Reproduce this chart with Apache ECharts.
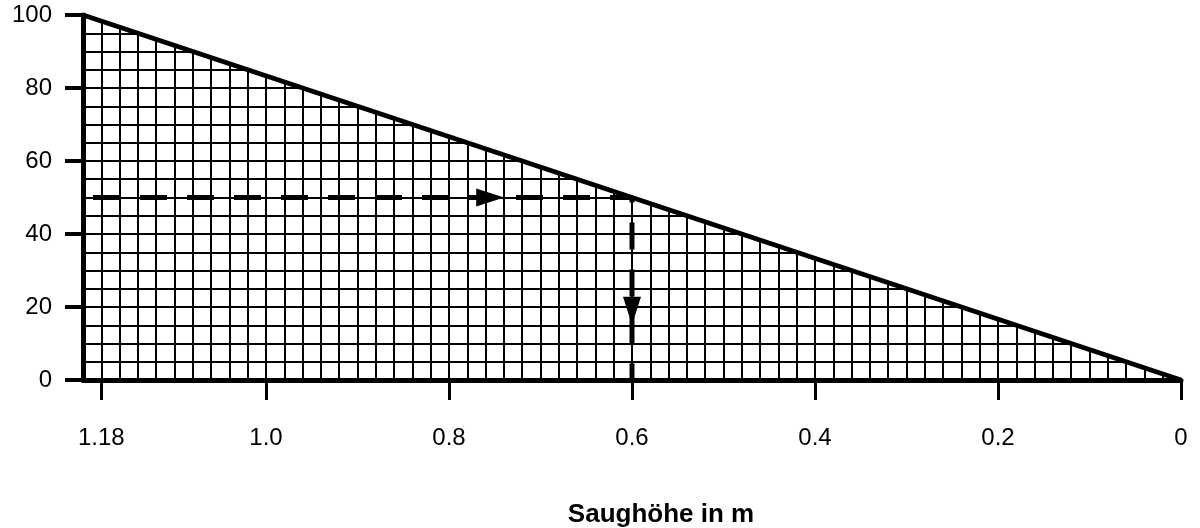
<!DOCTYPE html>
<html>
<head>
<meta charset="utf-8">
<title>Saughöhe</title>
<script src="https://cdn.jsdelivr.net/npm/echarts@6/dist/echarts.min.js"></script>
<style>
  html, body { margin: 0; padding: 0; background: #fff; }
  #chart { width: 1200px; height: 528px; }
</style>
</head>
<body>
<div id="chart"></div>
<script>
// triangle: suction height (m) vs percent
const heightM = [1.2, 0]
const percent = [100, 0]

// reading example (dashed path)
const readX = [1.2, 0.6, 0.6]
const readY = [50, 50, 0]

// arrow heads on the dashed path
const arrowX = [0.755, 0.6]
const arrowY = [50, 19]
const arrowRotate = [-90, 180]

// tick labels
const xTicks = [1.18, 1.0, 0.8, 0.6, 0.4, 0.2, 0]
const xTickLabels = ['1.18', '1.0', '0.8', '0.6', '0.4', '0.2', '0']
const yTicks = [0, 20, 40, 60, 80, 100]

const font = "'Liberation Sans', Arial, sans-serif"
const black = '#000'
const chart = echarts.init(document.getElementById('chart'))

// hidden twin axes that only draw the fine grid
const gridX = {
  type: 'value', inverse: true, min: 0, max: 1.2, interval: 0.02,
  axisLine: { show: false }, axisTick: { show: false }, axisLabel: { show: false },
  splitLine: { show: true, showMinLine: false, showMaxLine: false, lineStyle: { color: black, width: 2 } },
}
const gridY = {
  type: 'value', min: 0, max: 100, interval: 5,
  axisLine: { show: false }, axisTick: { show: false }, axisLabel: { show: false },
  splitLine: { show: true, showMinLine: false, showMaxLine: false, lineStyle: { color: black, width: 2 } },
}

chart.setOption({
  animation: false,
  backgroundColor: '#fff',
  grid: { left: 83, right: 19, top: 15, bottom: 148, outerBoundsMode: 'none' },
  xAxis: [
    {
      type: 'value',
      inverse: true,
      min: 0,
      max: 1.2,
      name: 'Saughöhe in m',
      nameLocation: 'middle',
      nameGap: 122,
      nameTextStyle: { color: black, fontFamily: font, fontSize: 26, fontWeight: 'bold', padding: [0, 0, 0, 58] },
      axisLine: { onZero: false, lineStyle: { color: black, width: 5 } },
      axisTick: { customValues: xTicks, length: 20, lineStyle: { color: black, width: 3 } },
      axisLabel: {
        customValues: xTicks,
        margin: 46,
        color: black,
        fontFamily: font,
        fontSize: 24,
        formatter: (v) => xTickLabels[xTicks.indexOf(v)] ?? String(v),
      },
      splitLine: { show: false },
      z: 5,
    },
    gridX,
  ],
  yAxis: [
    {
      type: 'value',
      min: 0,
      max: 100,
      axisLine: { show: true, onZero: false, lineStyle: { color: black, width: 5 } },
      axisTick: { show: true, customValues: yTicks, length: 18, lineStyle: { color: black, width: 4 } },
      axisLabel: { customValues: yTicks, margin: 31, color: black, fontFamily: font, fontSize: 24 },
      splitLine: { show: false },
      z: 5,
    },
    gridY,
  ],
  series: [
    {
      type: 'line',
      data: heightM.map((x, i) => [x, percent[i]]),
      symbol: 'none',
      clip: false,
      lineStyle: { color: black, width: 5 },
      // white above the line hides the grid outside the triangle
      areaStyle: { color: '#fff', opacity: 1, origin: 'end' },
      z: 2,
    },
    {
      type: 'line',
      data: readX.map((x, i) => [x, readY[i]]),
      symbol: 'none',
      lineStyle: { color: black, width: 5, type: [27, 20], dashOffset: 37 },
      z: 3,
    },
    {
      type: 'scatter',
      data: arrowX.map((x, i) => ({ value: [x, arrowY[i]], symbolRotate: arrowRotate[i] })),
      symbol: 'triangle',
      symbolSize: [18, 28],
      itemStyle: { color: black, opacity: 1 },
      z: 4,
    },
  ],
})
</script>
</body>
</html>
